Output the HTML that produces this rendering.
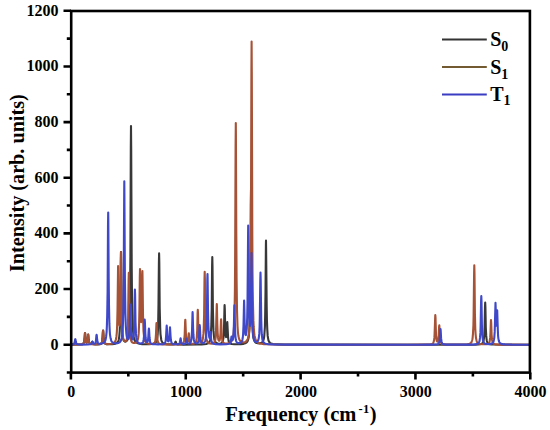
<!DOCTYPE html>
<html><head><meta charset="utf-8"><style>
html,body{margin:0;padding:0;background:#fff;}
svg{display:block;}
text{font-family:"Liberation Serif",serif;font-weight:bold;fill:#000;}
</style></head><body>
<svg width="550" height="430" viewBox="0 0 550 430">
<rect width="550" height="430" fill="#fff"/>
<g>
<g fill="none" stroke-width="2.1" stroke-linejoin="round" stroke-linecap="butt">
<path d="M70.9,344.6 80.3,344.5 82.1,344.2 83.1,343.7 83.4,343.4 83.7,342.9 84.2,341.2 84.5,339.0 84.9,333.8 85.0,333.0 85.2,334.0 85.7,340.5 86.1,341.9 86.5,342.6 86.7,342.6 87.0,342.4 87.4,341.3 87.7,339.4 88.1,335.1 88.2,334.6 88.3,335.2 88.7,339.5 89.0,341.5 89.4,342.9 89.9,343.6 90.3,343.8 90.7,343.9 91.1,343.9 91.4,343.7 91.8,343.2 92.2,341.9 92.4,341.6 93.2,343.6 93.5,344.0 94.1,344.2 95.4,344.4 97.8,344.4 99.5,344.2 100.6,344.0 101.1,343.6 101.6,343.0 102.0,342.1 102.2,341.1 102.5,338.2 102.9,331.9 103.1,330.5 103.3,331.9 103.7,338.2 104.0,340.8 104.4,342.6 104.8,343.3 105.2,343.7 106.2,344.1 108.0,344.3 112.2,344.1 114.1,343.9 115.5,343.6 116.6,343.1 117.4,342.4 118.1,341.5 118.5,340.6 118.8,339.4 119.3,336.1 119.7,331.0 120.0,324.0 120.4,307.3 120.8,261.3 121.0,252.1 121.1,256.4 121.7,314.2 122.0,325.5 122.4,333.3 122.8,336.6 123.2,338.8 123.7,340.3 124.3,341.2 124.8,341.5 125.3,341.6 125.8,341.5 126.3,341.1 126.8,340.7 127.2,340.0 127.9,338.2 128.3,336.5 128.6,334.2 129.2,327.3 129.6,317.4 130.0,300.7 130.4,256.8 130.8,147.8 131.0,126.0 131.2,147.8 131.7,265.8 132.0,296.6 132.3,315.4 132.8,328.5 133.2,332.9 133.6,336.4 134.2,339.0 134.9,340.8 135.8,342.0 137.0,342.9 137.9,343.3 139.8,343.8 142.1,344.1 144.4,344.2 149.0,344.2 152.4,344.0 154.2,343.6 154.8,343.3 155.4,342.8 155.8,342.3 156.2,341.7 156.9,340.0 157.3,337.5 157.7,334.1 158.0,329.2 158.2,322.5 158.5,303.7 158.9,262.5 159.1,253.4 159.3,262.5 159.7,308.0 160.2,327.9 160.5,334.1 161.1,338.6 161.3,340.0 161.7,341.2 162.2,342.1 162.7,342.8 163.3,343.2 164.0,343.6 165.9,344.1 169.5,344.4 173.2,344.4 174.2,344.2 174.7,343.8 175.0,343.2 175.4,341.8 175.6,341.5 175.8,341.8 176.2,343.2 176.5,343.8 177.0,344.2 177.8,344.4 179.6,344.5 183.5,344.6 197.2,344.5 201.8,344.4 204.1,344.3 206.3,344.0 207.4,343.6 208.2,343.2 208.9,342.7 209.4,341.9 209.8,341.1 210.1,339.9 210.6,336.9 211.0,332.3 211.3,325.4 211.7,309.4 212.1,265.7 212.3,257.0 212.5,265.7 212.9,309.4 213.3,325.4 213.5,330.9 213.9,335.8 214.3,339.1 214.9,341.1 215.6,342.3 216.5,343.1 217.8,343.6 219.5,343.7 220.8,343.5 221.8,342.9 222.5,342.0 222.9,340.7 223.5,337.6 223.8,332.7 224.1,324.6 224.5,307.0 224.6,305.1 224.8,308.9 225.2,327.8 225.5,332.7 225.7,335.4 225.9,336.5 226.1,337.1 226.2,337.0 226.3,336.7 226.5,335.6 226.7,332.9 227.1,324.0 227.3,322.1 228.1,337.5 228.6,340.8 228.8,341.8 229.2,342.6 229.6,343.1 230.1,343.5 230.8,343.8 231.7,344.0 234.2,344.2 238.6,344.3 240.9,344.1 243.2,343.9 244.3,343.6 245.2,343.3 245.9,343.0 246.6,342.5 247.1,341.9 247.7,340.9 248.2,339.5 248.6,337.8 248.9,335.4 249.4,329.1 249.9,318.5 250.1,303.6 250.4,282.5 250.8,205.2 251.0,189.7 251.2,205.1 251.7,288.7 251.9,307.3 252.3,322.3 252.7,331.7 253.0,334.9 253.4,337.7 253.9,339.6 254.4,341.0 255.2,342.1 256.1,342.8 256.8,343.1 257.6,343.3 259.5,343.4 261.1,343.1 261.7,342.8 262.2,342.4 263.0,341.5 263.5,340.0 264.0,338.0 264.3,335.3 264.9,326.9 265.2,314.1 265.5,292.5 265.9,245.4 266.0,240.6 266.1,248.1 266.7,307.1 266.9,319.5 267.3,329.6 267.7,335.9 268.1,338.4 268.4,340.1 268.9,341.4 269.5,342.3 270.2,343.1 271.2,343.6 273.0,344.0 275.3,344.3 277.6,344.4 284.5,344.6 296.0,344.6 463.7,344.7 475.2,344.6 478.4,344.5 480.3,344.2 481.2,344.0 481.9,343.7 482.4,343.3 482.8,342.8 483.2,342.1 483.5,341.2 483.9,338.6 484.3,334.6 484.5,329.5 485.0,306.7 485.2,302.5 485.4,306.7 485.8,327.7 486.2,335.4 486.5,338.6 486.8,340.7 487.3,342.3 488.0,343.3 488.8,343.8 489.9,344.2 491.3,344.4 493.5,344.5 502.7,344.7 530.3,344.7" stroke="#383838"/>
<path d="M70.9,344.6 80.3,344.5 82.1,344.2 83.1,343.7 83.4,343.4 83.7,342.9 84.2,341.2 84.5,338.9 84.9,333.8 85.0,333.0 85.2,334.0 85.7,340.4 86.1,341.9 86.5,342.6 86.7,342.6 87.0,342.4 87.4,341.3 87.7,339.4 88.1,335.1 88.2,334.6 88.3,335.3 88.7,339.7 89.0,341.7 89.4,343.0 89.7,343.4 90.0,343.8 90.6,344.1 91.4,344.3 94.1,344.4 98.5,344.3 99.7,344.2 100.6,343.9 101.1,343.6 101.6,343.0 102.0,342.1 102.2,341.1 102.5,338.2 102.9,331.8 103.1,330.5 103.2,331.1 103.6,337.4 103.9,340.3 104.4,342.4 104.7,343.0 105.0,343.4 105.9,343.9 107.2,344.1 109.4,344.0 111.6,343.8 112.9,343.4 113.9,342.9 114.6,342.3 115.2,341.4 115.9,339.5 116.4,336.7 116.8,332.7 117.1,327.1 117.5,310.5 118.0,271.7 118.1,266.1 118.2,271.2 118.7,306.3 118.9,318.1 119.1,322.9 119.4,325.4 119.5,325.7 119.6,325.5 119.9,323.2 120.1,317.0 120.3,306.4 120.9,258.3 121.0,252.0 121.1,258.7 121.6,306.6 122.1,326.2 122.4,332.6 122.9,336.9 123.2,338.5 123.6,339.7 124.0,340.5 124.4,341.1 125.1,341.3 125.6,341.2 126.2,340.7 126.6,339.8 126.9,338.6 127.2,336.9 127.6,332.5 127.9,326.7 128.1,318.2 128.6,279.9 128.8,272.9 128.9,276.2 129.5,320.9 129.9,330.9 130.1,334.5 130.4,337.3 130.9,339.7 131.4,341.3 131.8,341.9 132.3,342.4 132.8,342.7 133.5,342.9 134.3,343.0 135.1,342.9 135.8,342.6 136.4,342.2 136.9,341.6 137.3,340.9 138.0,338.9 138.4,336.5 138.7,333.4 139.1,323.5 139.4,310.0 139.8,276.7 140.0,269.1 140.2,275.0 140.6,309.3 140.8,316.6 141.0,321.0 141.2,322.1 141.4,321.3 141.7,314.9 142.3,274.0 142.4,271.0 142.5,275.3 143.0,314.9 143.3,324.5 143.5,331.1 144.0,336.2 144.5,339.4 144.8,340.6 145.2,341.5 145.7,342.2 146.2,342.7 147.2,343.3 148.3,343.7 149.8,343.9 151.6,344.0 152.8,343.9 153.7,343.6 154.3,343.2 154.8,342.6 155.3,341.1 155.7,338.2 156.0,333.7 156.4,324.1 156.5,323.1 156.7,325.2 157.1,334.9 157.4,339.3 157.6,340.9 157.9,342.0 158.3,342.9 158.9,343.5 159.8,344.0 161.2,344.2 163.4,344.4 167.4,344.5 174.3,344.5 178.8,344.4 181.1,344.1 181.9,343.9 182.5,343.6 183.2,343.1 183.7,342.1 184.0,340.9 184.3,339.0 184.7,334.5 185.1,322.1 185.3,319.7 185.4,320.8 186.0,336.1 186.4,339.5 186.8,341.2 187.1,341.7 187.3,341.8 187.4,341.8 187.7,341.4 187.9,340.7 188.2,338.9 188.6,334.2 188.8,333.3 188.9,333.8 189.5,340.2 189.8,341.7 190.2,342.8 190.5,343.2 190.9,343.5 192.0,343.8 193.6,343.7 194.3,343.5 194.8,343.2 195.6,342.5 196.1,341.4 196.5,339.6 196.8,337.3 197.2,330.4 197.6,313.2 197.8,309.7 198.0,313.2 198.4,330.5 198.7,335.0 199.0,338.2 199.4,340.6 199.7,341.4 200.0,341.8 200.4,342.2 200.9,342.2 201.4,342.1 201.8,341.7 202.2,341.1 202.5,340.2 203.0,337.8 203.4,333.9 203.7,328.6 204.1,315.2 204.5,279.1 204.7,271.9 204.9,279.1 205.3,311.9 205.6,326.9 205.8,332.1 206.1,336.0 206.5,339.0 207.1,341.0 207.7,342.2 208.1,342.6 208.6,343.0 209.9,343.5 211.6,343.6 213.0,343.4 213.9,342.9 214.6,342.0 215.1,340.6 215.4,339.2 215.7,337.3 216.0,331.3 216.7,306.2 216.8,304.1 216.9,305.9 217.3,323.9 217.6,332.1 218.0,337.4 218.2,338.9 218.6,340.2 218.8,340.6 219.0,340.8 219.3,340.8 219.5,340.6 219.8,339.6 220.1,337.9 220.5,333.6 220.9,321.6 221.1,319.3 221.2,320.6 221.6,331.8 221.9,336.7 222.3,340.1 222.8,341.9 223.4,342.7 224.1,343.2 225.2,343.5 226.6,343.5 228.0,343.3 229.5,342.8 230.5,342.2 231.4,341.4 232.1,340.0 232.7,338.4 233.2,336.2 233.6,333.1 233.9,329.0 234.2,323.6 234.6,309.9 234.9,291.1 235.1,264.5 235.6,145.0 235.8,123.0 235.9,133.4 236.3,233.7 236.6,279.6 237.0,309.9 237.5,325.9 237.9,331.8 238.4,336.0 239.1,338.9 239.5,339.9 240.0,340.7 240.6,341.4 241.4,342.0 242.2,342.3 243.2,342.4 244.7,342.2 245.5,341.9 246.4,341.2 247.1,340.2 247.9,338.6 248.5,336.1 249.0,333.1 249.4,329.0 249.7,323.4 250.0,316.0 250.4,297.4 250.7,271.5 250.9,235.3 251.4,71.7 251.6,41.6 251.8,72.0 252.3,235.5 252.5,271.7 252.9,301.1 253.4,320.9 253.7,326.7 254.1,331.8 254.5,335.4 255.2,338.3 255.9,340.2 256.4,341.0 256.9,341.7 257.6,342.3 258.5,342.9 259.3,343.2 261.6,343.8 263.8,344.1 266.1,344.2 275.3,344.5 309.8,344.7 408.6,344.7 424.6,344.6 428.4,344.5 430.5,344.3 432.0,343.9 432.5,343.6 433.0,343.2 433.3,342.6 433.6,341.9 434.1,340.1 434.4,337.4 434.6,333.9 435.2,316.9 435.3,315.1 435.5,317.4 435.9,331.1 436.1,336.2 436.6,340.0 436.9,341.1 437.3,341.6 437.6,341.7 437.9,341.2 438.2,340.3 438.4,338.9 438.7,335.6 439.1,326.9 439.3,325.4 439.4,326.7 439.9,336.2 440.2,340.0 440.5,341.5 440.9,342.5 441.3,343.2 441.8,343.7 442.9,344.2 444.6,344.4 447.6,344.5 452.2,344.6 463.7,344.5 467.4,344.2 469.4,343.8 470.3,343.4 471.0,342.8 471.5,342.1 471.9,341.0 472.3,339.7 472.6,338.1 473.0,333.3 473.4,325.6 473.6,316.1 474.1,273.3 474.3,265.4 474.5,273.3 474.9,312.9 475.3,328.8 475.6,334.1 476.0,338.1 476.6,340.8 476.9,341.7 477.3,342.4 478.0,343.2 479.0,343.7 480.3,344.0 482.1,344.3 485.0,344.3 487.1,344.1 488.3,343.7 488.8,343.3 489.1,342.9 489.4,342.1 489.7,341.1 490.2,337.4 490.5,332.3 490.9,321.2 491.0,320.1 491.2,322.5 491.6,334.8 492.0,339.2 492.3,341.1 492.6,342.3 493.1,343.2 493.7,343.8 494.6,344.1 495.8,344.4 500.4,344.6 530.3,344.7" stroke="#a65236"/>
<path d="M70.9,344.6 73.1,344.4 73.7,344.1 74.1,343.8 74.4,343.3 74.6,342.6 75.1,339.6 75.3,339.1 75.5,339.6 75.9,342.1 76.2,343.1 76.7,343.9 77.5,344.3 79.1,344.5 82.4,344.6 87.9,344.5 90.3,344.3 91.1,344.1 91.5,343.7 91.8,343.2 92.2,341.9 92.4,341.7 92.6,341.9 93.0,343.1 93.3,343.5 93.8,343.8 94.5,343.7 94.9,343.5 95.2,343.1 95.5,342.6 95.7,341.8 96.0,340.1 96.4,335.6 96.6,334.7 96.8,335.5 97.2,340.0 97.5,341.7 97.9,342.9 98.2,343.3 98.5,343.6 99.5,343.8 100.8,343.8 102.1,343.5 103.3,343.1 104.0,342.5 104.6,341.8 105.2,340.8 105.6,339.6 106.1,336.7 106.6,332.1 106.9,325.6 107.2,315.6 107.6,291.6 108.0,225.8 108.2,212.6 108.3,218.7 108.7,278.5 109.0,305.8 109.4,323.9 109.7,330.3 110.0,334.7 110.6,338.3 111.2,340.5 111.6,341.3 112.1,342.0 112.7,342.5 113.4,342.9 114.2,343.2 115.1,343.3 116.8,343.3 117.8,343.1 118.6,342.9 119.5,342.4 120.2,341.7 120.8,340.8 121.3,339.5 121.7,338.0 122.1,336.0 122.6,330.8 123.0,322.6 123.3,311.6 123.7,278.9 124.2,192.9 124.3,181.2 124.4,192.7 124.9,278.6 125.4,314.1 125.8,325.8 126.3,333.1 126.6,335.6 126.9,337.4 127.4,338.7 127.6,339.1 127.9,339.3 128.1,339.3 128.4,339.0 128.8,338.0 129.1,336.1 129.4,333.2 129.7,326.4 130.2,307.2 130.3,304.6 130.4,307.3 130.9,327.6 131.4,335.6 131.8,338.3 132.1,339.1 132.4,339.5 132.5,339.5 132.7,339.4 133.0,338.9 133.5,336.8 133.9,332.5 134.2,325.8 134.8,292.2 134.9,289.5 135.1,294.6 135.5,322.1 136.0,333.9 136.3,337.7 136.7,340.0 137.4,341.7 137.8,342.3 138.2,342.8 138.9,343.2 139.8,343.4 140.7,343.5 141.6,343.4 142.2,343.1 142.6,342.6 143.0,342.1 143.3,341.3 143.7,339.2 144.0,336.0 144.5,321.8 144.7,319.5 144.9,322.0 145.3,333.1 145.6,337.5 146.0,340.7 146.4,341.6 146.8,342.1 147.2,342.1 147.5,341.7 147.8,341.0 148.0,339.8 148.3,337.1 148.7,330.1 148.9,328.6 149.1,330.0 149.5,337.2 149.8,340.0 150.2,342.2 150.5,342.8 150.9,343.3 151.8,343.9 153.0,344.2 155.1,344.3 158.2,344.4 160.8,344.3 162.5,344.2 163.7,343.9 164.5,343.5 164.9,342.9 165.3,342.1 165.6,341.1 165.8,339.6 166.1,335.9 166.6,326.9 166.7,325.5 166.8,326.7 167.4,337.8 167.8,340.3 168.0,341.0 168.3,341.4 168.5,341.3 168.8,340.9 169.2,338.9 169.5,335.6 169.9,328.6 170.0,327.4 170.1,328.7 170.6,336.8 170.9,340.1 171.4,342.3 171.7,343.0 172.2,343.5 172.7,343.8 173.3,344.0 175.2,344.3 177.7,344.2 178.4,344.1 179.0,343.9 179.5,343.3 179.8,342.5 180.5,338.7 180.6,338.3 180.7,338.6 181.1,341.4 181.4,342.6 181.7,343.4 182.3,343.8 183.0,344.1 184.0,344.1 184.8,343.8 185.3,343.4 185.6,342.9 185.8,342.2 186.3,339.0 186.5,338.6 186.6,338.9 187.1,341.9 187.5,343.0 187.9,343.4 188.4,343.6 189.0,343.6 189.7,343.4 190.4,342.7 190.9,341.6 191.3,339.8 191.6,337.5 192.0,331.4 192.5,313.9 192.6,312.1 192.7,313.6 193.1,328.2 193.4,334.7 193.8,339.2 194.0,340.6 194.4,341.7 194.7,342.5 195.2,343.0 195.8,343.3 196.4,343.4 197.1,343.3 197.6,343.0 198.0,342.5 198.3,341.7 198.7,339.9 199.0,337.2 199.5,326.8 199.7,325.0 199.9,326.9 200.4,337.2 200.6,339.4 200.9,341.1 201.4,342.3 201.7,342.7 202.1,343.0 202.6,343.1 203.1,343.1 203.6,342.9 204.1,342.6 204.6,342.1 205.0,341.4 205.3,340.5 205.6,339.4 206.1,336.1 206.4,331.2 206.9,316.1 207.3,280.1 207.5,274.0 207.6,278.1 208.0,309.9 208.3,323.9 208.8,333.6 209.1,336.3 209.4,337.8 209.5,337.9 209.6,337.9 209.9,337.1 210.4,332.5 210.5,332.0 210.7,333.1 211.1,338.8 211.5,341.3 211.8,342.2 212.2,342.8 212.7,343.3 213.5,343.7 214.5,344.0 215.9,344.2 220.2,344.4 226.3,344.2 228.0,344.0 229.1,343.7 229.6,343.5 230.0,343.1 230.6,342.1 230.9,340.6 231.5,336.5 231.6,336.9 232.1,339.8 232.4,340.2 232.6,340.2 232.9,339.4 233.2,337.9 233.6,332.5 233.9,324.5 234.3,307.9 234.4,305.2 234.5,308.0 235.1,330.8 235.4,336.3 235.8,339.6 236.1,340.8 236.5,341.8 237.0,342.5 237.5,342.9 238.4,343.1 239.4,343.1 240.4,342.8 241.1,342.3 241.9,341.3 242.4,339.8 242.8,337.5 243.1,334.3 243.5,325.2 244.0,303.8 244.1,300.5 244.2,303.1 244.7,324.7 245.2,332.6 245.5,334.8 245.8,335.1 246.0,334.8 246.4,332.6 246.8,328.2 247.2,317.8 247.5,302.5 248.1,233.3 248.2,225.5 248.3,233.5 248.9,298.8 249.2,314.4 249.5,323.0 249.8,325.7 249.9,325.9 250.0,325.9 250.1,325.4 250.4,321.9 250.6,315.8 250.9,300.6 251.4,259.0 251.5,253.1 251.6,259.7 252.2,308.8 252.4,320.2 252.7,328.4 253.1,334.3 253.3,336.5 253.7,338.3 254.1,339.7 254.5,340.7 255.1,341.5 255.7,341.9 256.4,342.0 257.1,341.8 257.7,341.3 258.1,340.5 258.5,339.4 258.8,338.0 259.3,333.4 259.6,326.8 259.8,318.2 260.3,279.6 260.5,272.5 260.7,279.6 261.2,318.4 261.5,328.5 261.8,334.7 262.3,339.0 262.6,340.3 263.0,341.4 263.5,342.3 264.1,342.9 264.9,343.4 265.9,343.8 268.4,344.2 273.0,344.4 289.1,344.6 417.7,344.7 431.5,344.6 435.9,344.5 437.3,344.3 438.3,343.9 438.9,343.2 439.3,342.2 439.6,340.9 439.8,339.0 440.3,330.5 440.5,329.0 440.7,330.5 441.1,338.4 441.5,341.2 441.8,342.4 442.1,343.2 442.6,343.8 443.1,344.1 444.3,344.4 446.4,344.6 456.8,344.6 470.6,344.6 474.4,344.4 476.4,344.1 477.3,343.9 478.0,343.5 478.5,343.0 478.9,342.4 479.3,341.6 479.6,340.6 480.0,337.7 480.4,332.9 480.6,327.1 481.1,300.9 481.3,296.1 481.5,300.9 481.9,325.1 482.3,334.0 482.6,337.6 483.0,340.3 483.5,342.0 484.2,343.0 485.1,343.7 486.6,344.0 488.8,344.1 490.8,343.9 491.9,343.5 492.7,342.9 493.3,342.1 493.7,340.9 494.0,339.4 494.3,337.6 494.7,331.9 495.5,302.7 495.6,305.3 496.1,321.1 496.3,325.2 496.4,325.7 496.4,325.8 496.5,325.7 496.6,323.9 497.1,312.0 497.2,310.3 497.8,329.5 498.1,336.0 498.4,338.6 498.8,340.6 499.2,341.9 499.7,342.9 500.5,343.5 501.5,343.9 502.9,344.2 505.0,344.4 511.9,344.6 530.3,344.7" stroke="#3e48c8"/>
</g>
<g fill="none" stroke="#000" stroke-width="2.6">
<rect x="71.2" y="11.0" width="458.7" height="361.6"/>
<path d="M66.80,372.52H71 M63.50,344.70H71 M66.80,316.88H71 M63.50,289.05H71 M66.80,261.23H71 M63.50,233.40H71 M66.80,205.57H71 M63.50,177.75H71 M66.80,149.92H71 M63.50,122.10H71 M66.80,94.27H71 M63.50,66.45H71 M66.80,38.62H71 M63.50,10.80H71" />
<path d="M70.90,372.6V379.60 M128.32,372.6V376.60 M185.75,372.6V379.60 M243.17,372.6V376.60 M300.60,372.6V379.60 M358.02,372.6V376.60 M415.45,372.6V379.60 M472.88,372.6V376.60 M530.30,372.6V379.60" />
</g>
<g font-size="16"><text x="58.6" y="350" text-anchor="end">0</text><text x="58.6" y="294" text-anchor="end">200</text><text x="58.6" y="238" text-anchor="end">400</text><text x="58.6" y="183" text-anchor="end">600</text><text x="58.6" y="127" text-anchor="end">800</text><text x="58.6" y="71" text-anchor="end">1000</text><text x="58.6" y="16" text-anchor="end">1200</text><text x="71.20" y="396.8" text-anchor="middle">0</text><text x="186.05" y="396.8" text-anchor="middle">1000</text><text x="300.90" y="396.8" text-anchor="middle">2000</text><text x="415.75" y="396.8" text-anchor="middle">3000</text><text x="530.60" y="396.8" text-anchor="middle">4000</text></g>
<text y="421" font-size="20.5"><tspan x="225.25">Frequency (cm</tspan><tspan x="358.4" y="412.7" font-size="12.5">-</tspan><tspan x="363" y="412.7" font-size="12.5">1</tspan><tspan x="369.7" y="421">)</tspan></text>
<text transform="translate(23.8,272) rotate(-90)" font-size="20.2">Intensity (arb. units)</text>
<g stroke-width="2">
<path d="M442,39.4H486.8" stroke="#333"/>
<path d="M442,67.0H486.8" stroke="#735a30"/>
<path d="M442,94.6H486.8" stroke="#3a3cc4"/>
</g>
<g font-size="20">
<text x="490.2" y="46">S<tspan font-size="14" dy="5">0</tspan></text>
<text x="490.2" y="74">S<tspan font-size="14" dy="5">1</tspan></text>
<text x="490.2" y="101">T<tspan font-size="14" dy="4">1</tspan></text>
</g>
</g>
</svg>
</body></html>
